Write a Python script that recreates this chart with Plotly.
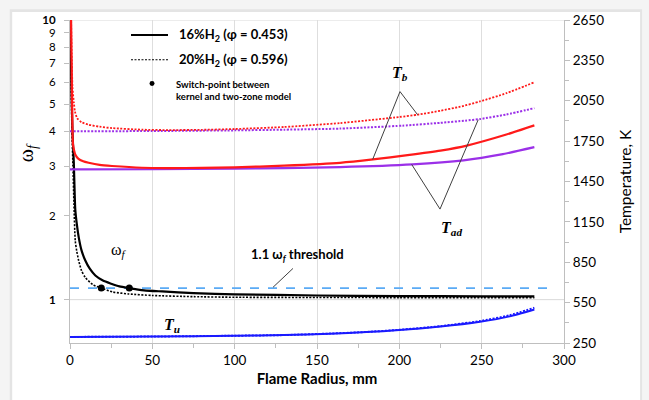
import plotly.graph_objects as go

# ---- flame-speed factor omega_f (left, log axis) ----
r_omega_16 = [0.2, 0.5, 0.8, 1.5, 2.3, 3.2, 4.2, 5.3, 7.0, 9.3, 12, 15.4, 20, 25, 30,
              35.6, 45, 56, 75, 100, 150, 200, 250, 282]
omega_16 = [14, 8.0, 6.0, 4.0, 3.1, 2.1, 1.85, 1.67, 1.5, 1.38, 1.29, 1.22, 1.17, 1.14, 1.115,
            1.1, 1.08, 1.07, 1.055, 1.045, 1.035, 1.03, 1.028, 1.027]

r_omega_20 = [0.2, 0.4, 0.7, 1.2, 1.8, 2.4, 3.2, 4.2, 5.3, 7.0, 9.3, 14, 19, 26, 35.6,
              50, 75, 100, 150, 200, 250, 282]
omega_20 = [14, 9.0, 6.0, 4.0, 3.0, 2.2, 1.62, 1.48, 1.377, 1.27, 1.2, 1.13, 1.1, 1.065, 1.048,
            1.035, 1.025, 1.02, 1.018, 1.017, 1.016, 1.016]

# switch-point between kernel and two-zone model
switch_r = [19, 36]
switch_omega = [1.1, 1.1]
threshold_omega = 1.1
threshold_r = [0, 295]

# ---- temperatures (right axis), K ----
r_tb_16 = [0.5, 1.0, 1.3, 1.8, 2.5, 3.2, 5, 8, 11.3, 18, 25.5, 43.7, 60, 80, 100, 130,
           164, 184, 205, 225, 241, 265, 282]
tb_16 = [2800, 2300, 2000, 1727, 1680, 1651, 1620, 1600, 1589, 1573, 1565, 1552, 1550, 1551,
         1555, 1568, 1589, 1614, 1646, 1680, 1717, 1799, 1867]

r_tb_20 = [0.5, 1.0, 1.5, 2.3, 3.0, 4.3, 7, 11.3, 18, 25.5, 43.7, 60, 80, 100, 130, 164,
           200, 211, 225, 237, 249, 265, 282]
tb_20 = [2800, 2400, 2150, 2040, 1970, 1921, 1890, 1872, 1857, 1847, 1835, 1832, 1834, 1840,
         1855, 1884, 1929, 1946, 1976, 2006, 2045, 2106, 2187]

r_tad = [0, 50, 100, 130, 164, 208, 239, 262, 282]
tad_16 = [1540, 1541, 1545, 1550, 1557, 1577, 1607, 1651, 1705]

r_tad_20 = [0, 50, 100, 130, 164, 202, 225, 240, 249, 265, 282]
tad_20 = [1823, 1825, 1830, 1835, 1843, 1865, 1886, 1902, 1914, 1948, 1995]

r_tu = [0, 50, 100, 130, 158, 180, 200, 225, 249, 267, 282]
tu_16 = [295, 298, 304, 309, 319, 331, 346, 372, 408, 448, 499]
tu_20 = [295, 298, 304, 309, 320, 332, 348, 375, 413, 456, 512]

# axis ticks
x_ticks = [0, 50, 100, 150, 200, 250, 300]
omega_ticks = [1, 2, 3, 4, 5, 6, 7, 8, 9, 10]
omega_tick_text = ["<b>1</b>", "2", "3", "4", "5", "6", "7", "8", "9", "<b>10</b>"]
temp_ticks = [250, 550, 850, 1150, 1450, 1750, 2050, 2350, 2650]

RED = "#ff1a1a"
PURPLE = "#9b30e8"
BLUE = "#1a1aff"
LIGHTBLUE = "#5aaaf5"
FONT = "Lato"
SERIF = "Liberation Serif"
FINE_DOT = "2px,1.5px"

fig = go.Figure()


def temp_line(x, y, color, dash, width):
    fig.add_trace(go.Scatter(x=x, y=y, yaxis="y2", mode="lines",
                             line=dict(color=color, dash=dash, width=width, shape="spline",
                                       smoothing=0.5),
                             showlegend=False, hoverinfo="skip"))


temp_line(r_tu, tu_20, BLUE, FINE_DOT, 2)
temp_line(r_tu, tu_16, BLUE, "solid", 2)
temp_line(r_tad_20, tad_20, PURPLE, FINE_DOT, 2)
temp_line(r_tad, tad_16, PURPLE, "solid", 2.2)
temp_line(r_tb_20, tb_20, RED, FINE_DOT, 1.8)
temp_line(r_tb_16, tb_16, RED, "solid", 2.2)

fig.add_trace(go.Scatter(x=threshold_r, y=[threshold_omega] * len(threshold_r), mode="lines",
                         line=dict(color=LIGHTBLUE, dash="dash", width=1.6),
                         showlegend=False, hoverinfo="skip"))
fig.add_trace(go.Scatter(x=r_omega_20, y=omega_20, mode="lines",
                         line=dict(color="black", dash=FINE_DOT, width=1.6, shape="spline",
                                   smoothing=0.6),
                         showlegend=False, hoverinfo="skip"))
fig.add_trace(go.Scatter(x=r_omega_16, y=omega_16, mode="lines",
                         line=dict(color="black", width=2.2, shape="spline", smoothing=0.6),
                         showlegend=False, hoverinfo="skip"))
fig.add_trace(go.Scatter(x=switch_r, y=switch_omega, mode="markers",
                         marker=dict(color="black", size=7),
                         showlegend=False, hoverinfo="skip"))

# frame of the chart card
shapes = [
    dict(type="rect", xref="paper", yref="paper", x0=-0.122, x1=1.158, y0=-0.19, y1=1.033,
         fillcolor="#e4e4e4", line=dict(width=0), layer="below"),
    dict(type="rect", xref="paper", yref="paper", x0=-0.117, x1=1.154, y0=-0.19, y1=1.025,
         fillcolor="white", line=dict(width=0), layer="below"),
    # horizontal gridlines at the decades
    dict(type="line", xref="paper", yref="y", x0=0, x1=1, y0=1, y1=1,
         line=dict(color="#d9d9d9", width=1), layer="below"),
    dict(type="line", xref="paper", yref="y", x0=0, x1=1, y0=10, y1=10,
         line=dict(color="#d9d9d9", width=1), layer="below"),
]

# pointer lines for the labels
pointer = dict(color="#404040", width=1)
for (xa, ya), (xb, yb) in [((200.4, 2118), (183.8, 1614)), ((200.4, 2118), (211.1, 1946)),
                           ((224.7, 1245), (207.5, 1577)), ((224.7, 1245), (247.9, 1909)),
                           ((123.3, 664), (135.4, 804))]:
    shapes.append(dict(type="line", xref="x", yref="y2", x0=xa, y0=ya, x1=xb, y1=yb,
                       line=pointer))


def px_x(p):
    return (p - 70) / 494


def px_y(p):
    return (343 - p) / 325


# legend samples
shapes.append(dict(type="line", xref="paper", yref="paper", x0=px_x(131), x1=px_x(168),
                   y0=px_y(33), y1=px_y(33), line=dict(color="black", width=2)))
shapes.append(dict(type="line", xref="paper", yref="paper", x0=px_x(131), x1=px_x(168),
                   y0=px_y(58), y1=px_y(58), line=dict(color="black", width=1.2, dash=FINE_DOT)))
shapes.append(dict(type="circle", xref="paper", yref="paper", x0=px_x(149.5), x1=px_x(154.5),
                   y0=px_y(84.5), y1=px_y(79.5), fillcolor="black", line=dict(width=0)))

annotations = [
    dict(x=px_x(177), y=px_y(33), text="<b>16%H<sub>2</sub> (φ = 0.453)</b>"),
    dict(x=px_x(177), y=px_y(58), text="<b>20%H<sub>2</sub> (φ = 0.596)</b>"),
]
for a in annotations:
    a.update(xref="paper", yref="paper", xanchor="left", yanchor="middle", showarrow=False,
             font=dict(family=FONT, size=13, color="black"))
annotations.append(dict(x=px_x(174), y=px_y(88.5), xref="paper", yref="paper",
                        xanchor="left", yanchor="middle", showarrow=False, align="left",
                        text="<b>Switch-point between<br>kernel and two-zone model</b>",
                        font=dict(family=FONT, size=9.5, color="black")))

serif_labels = [
    (px_x(400), px_y(72), "<b><i>T<sub>b</sub></i></b>"),
    (px_x(451), px_y(228), "<b><i>T<sub>ad</sub></i></b>"),
    (px_x(172), px_y(325), "<b><i>T<sub>u</sub></i></b>"),
    (px_x(119), px_y(250), "ω<sub><i>f</i></sub>"),
]
for x, y, t in serif_labels:
    annotations.append(dict(x=x, y=y, xref="paper", yref="paper", text=t, showarrow=False,
                            xanchor="center", yanchor="middle",
                            font=dict(family=SERIF, size=16, color="black")))
annotations.append(dict(x=px_x(249), y=px_y(254), xref="paper", yref="paper",
                        xanchor="left", yanchor="middle", showarrow=False,
                        text="<b>1.1 ω<sub><i>f</i></sub> threshold</b>",
                        font=dict(family=FONT, size=13, color="black")))
# rotated left axis title
annotations.append(dict(x=px_x(27), y=px_y(152), xref="paper", yref="paper",
                        xanchor="center", yanchor="middle",
                        text="ω<sub><i>f</i></sub>", textangle=-90, showarrow=False,
                        font=dict(family=SERIF, size=20, color="black")))

axis_gray = "#bfbfbf"
fig.update_layout(
    width=649, height=400,
    margin=dict(l=70, r=85, t=18, b=57),
    paper_bgcolor="#f4f4f4", plot_bgcolor="rgba(0,0,0,0)",
    font=dict(family=FONT, color="black"),
    shapes=shapes, annotations=annotations,
    xaxis=dict(range=[0, 300], tickvals=x_ticks, ticks="outside", ticklen=5,
               tickcolor=axis_gray, showline=True, linecolor=axis_gray,
               showgrid=True, gridcolor="#dedede", zeroline=False,
               minor=dict(dtick=25, tick0=0, ticks="outside", ticklen=4, tickcolor=axis_gray,
                          showgrid=False),
               tickfont=dict(family=FONT, size=13.5, color="black"),
               tickprefix="<b>", ticksuffix="</b>",
               title=dict(text="<b>Flame Radius, mm</b>", standoff=6,
                          font=dict(family=FONT, size=15, color="black"))),
    yaxis=dict(type="log", range=[-0.155, 1.0], tickvals=omega_ticks, ticktext=omega_tick_text,
               ticks="outside", ticklen=5, tickcolor=axis_gray, showline=True,
               linecolor=axis_gray, showgrid=False, zeroline=False, ticklabelstandoff=6,
               tickfont=dict(family=FONT, size=11.5, color="black")),
    yaxis2=dict(overlaying="y", side="right", range=[250, 2650], tickvals=temp_ticks,
                ticks="outside", ticklen=5, tickcolor=axis_gray, showline=True,
                linecolor=axis_gray, showgrid=False, zeroline=False,
                minor=dict(dtick=150, tick0=250, ticks="outside", ticklen=4,
                           tickcolor=axis_gray),
                tickprefix="<b>", ticksuffix="</b>",
                tickfont=dict(family=FONT, size=13.5, color="black"),
                title=dict(text="Temperature, K", standoff=16,
                           font=dict(family=FONT, size=15.5, color="black"))),
)

fig.write_html("out.html")
